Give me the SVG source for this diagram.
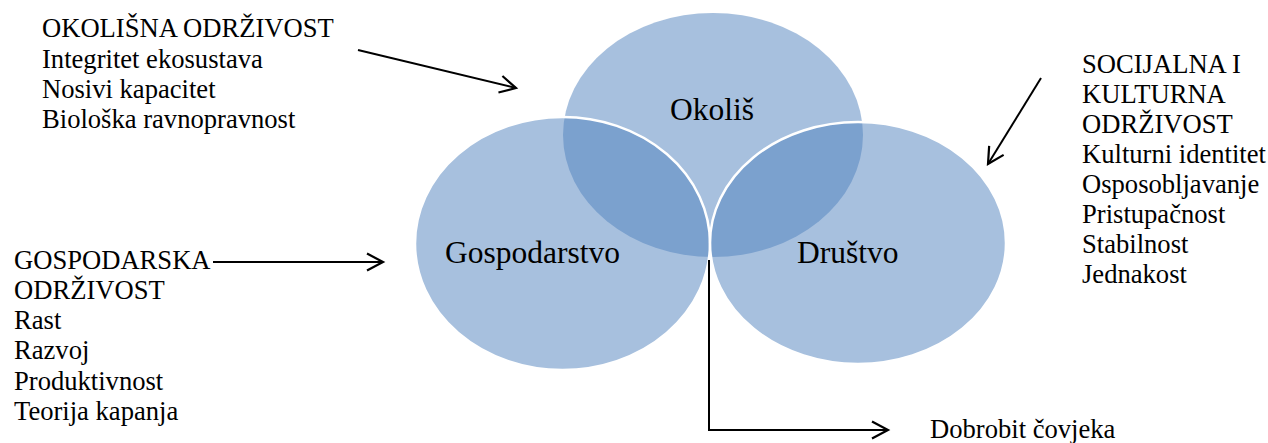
<svg xmlns="http://www.w3.org/2000/svg" width="1268" height="443" viewBox="0 0 1268 443">
  <style>
    .circle { fill: #4F81BD; fill-opacity: 0.5; stroke: #FFFFFF; stroke-width: 2.5; }
    .conn { fill: none; stroke: #000; stroke-width: 2; }
  </style>
  <defs>
    <marker id="arrow" markerUnits="userSpaceOnUse" markerWidth="24" markerHeight="24" viewBox="-20 -12 24 24" refX="0" refY="0" orient="auto">
      <path d="M-16,-8.5 L0,0 L-16,8.5" fill="none" stroke="#000" stroke-width="2.2"/>
    </marker>
  </defs>
  <rect width="1268" height="443" fill="#FFFFFF"/>

  <g font-family="'Liberation Serif', 'Times New Roman', serif" font-size="31.5" fill="#000">
    <g id="node-okolis">
      <ellipse cx="713" cy="135" rx="150" ry="122" fill="#4F81BD" fill-opacity="0.5"/>
      <text x="712" y="120" text-anchor="middle">Okoliš</text>
    </g>
    <g id="node-gospodarstvo">
      <ellipse class="circle" cx="562.5" cy="243.5" rx="147.5" ry="126.5"/>
      <text x="445" y="263">Gospodarstvo</text>
    </g>
    <g id="node-drustvo">
      <ellipse class="circle" cx="858" cy="243" rx="148" ry="121"/>
      <text x="797" y="263">Društvo</text>
    </g>
  </g>

  <g font-family="'Liberation Serif', 'Times New Roman', serif" font-size="26.6" fill="#000">
    <g id="text-okolisna">
      <text x="42" y="37">OKOLIŠNA ODRŽIVOST</text>
      <text x="42" y="68">Integritet ekosustava</text>
      <text x="42" y="98">Nosivi kapacitet</text>
      <text x="42" y="128">Biološka ravnopravnost</text>
    </g>
    <g id="text-socijalna">
      <text x="1082" y="73">SOCIJALNA I</text>
      <text x="1082" y="103">KULTURNA</text>
      <text x="1082" y="133">ODRŽIVOST</text>
      <text x="1082" y="163">Kulturni identitet</text>
      <text x="1082" y="193">Osposobljavanje</text>
      <text x="1082" y="223">Pristupačnost</text>
      <text x="1082" y="253">Stabilnost</text>
      <text x="1082" y="283">Jednakost</text>
    </g>
    <g id="text-gospodarska">
      <text x="14" y="269">GOSPODARSKA</text>
      <text x="14" y="299">ODRŽIVOST</text>
      <text x="14" y="329">Rast</text>
      <text x="14" y="359">Razvoj</text>
      <text x="14" y="390">Produktivnost</text>
      <text x="14" y="420">Teorija kapanja</text>
    </g>
    <g id="text-dobrobit">
      <text x="930" y="438">Dobrobit čovjeka</text>
    </g>
  </g>

  <g id="connectors">
    <line class="conn" x1="358" y1="50" x2="516" y2="88" marker-end="url(#arrow)"/>
    <line class="conn" x1="1041" y1="78" x2="988" y2="164" marker-end="url(#arrow)"/>
    <line class="conn" x1="213" y1="262" x2="383" y2="262" marker-end="url(#arrow)"/>
    <polyline class="conn" points="709,260 709,430 888,430" marker-end="url(#arrow)"/>
  </g>
</svg>
